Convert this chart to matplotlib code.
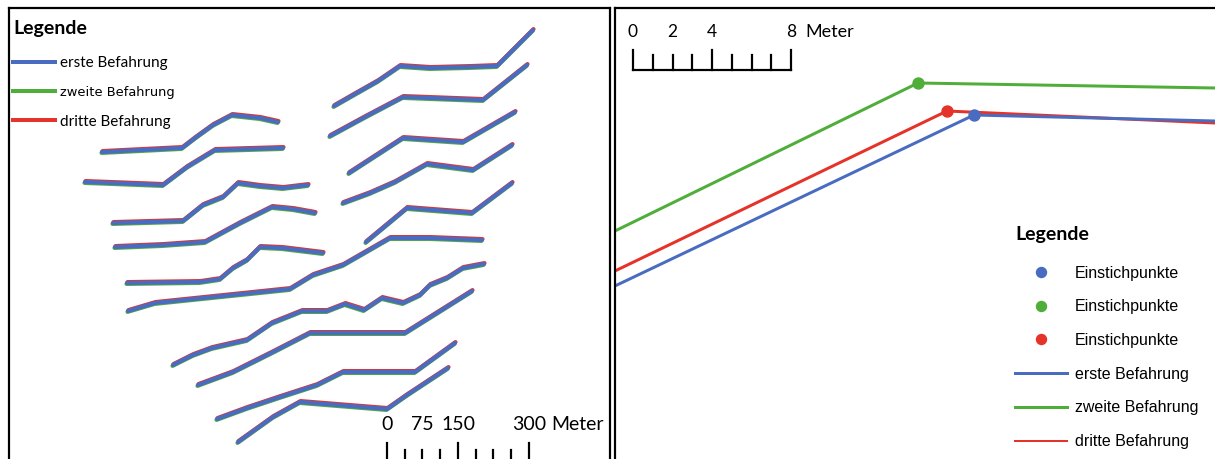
import matplotlib
matplotlib.use("Agg")
import matplotlib.pyplot as plt
from matplotlib.lines import Line2D
from matplotlib.transforms import offset_copy

# ---------------- data ----------------
series_labels = ["erste Befahrung", "zweite Befahrung", "dritte Befahrung"]
point_label = "Einstichpunkte"

# Left map: survey profiles (map coordinates, y grows downward)
p01_x = [102, 182, 195, 213, 232, 260, 278]
p01_y = [152, 148, 138, 125, 115, 118, 122]
p02_x = [85, 112, 163, 187, 215, 283]
p02_y = [182, 183, 185, 167, 150, 148]
p03_x = [113, 183, 203, 223, 238, 260, 283, 308]
p03_y = [223, 221, 205, 197, 183, 186, 188, 185]
p04_x = [115, 163, 205, 240, 272, 293, 315]
p04_y = [247, 245, 242, 223, 207, 209, 213]
p05_x = [127, 200, 220, 233, 247, 260, 282, 323]
p05_y = [283, 282, 279, 268, 260, 247, 248, 253]
p06_x = [128, 155, 290, 313, 343, 390, 430, 482]
p06_y = [311, 303, 289, 275, 265, 238, 238, 240]
p07_x = [173, 193, 212, 247, 272, 302, 327, 345, 364, 382, 403, 420, 430, 447, 463, 484]
p07_y = [365, 355, 348, 340, 323, 311, 311, 304, 310, 298, 303, 295, 285, 278, 268, 264]
p08_x = [198, 233, 273, 310, 405, 472]
p08_y = [385, 372, 352, 333, 333, 291]
p09_x = [217, 247, 280, 317, 343, 415, 455]
p09_y = [419, 408, 397, 385, 372, 372, 343]
p10_x = [238, 273, 300, 387, 407, 448]
p10_y = [442, 417, 402, 409, 395, 368]
p11_x = [334, 355, 378, 400, 430, 470, 497, 515, 533]
p11_y = [106, 94, 81, 66, 68, 67, 66, 48, 30]
p12_x = [330, 365, 403, 483, 527]
p12_y = [136, 117, 97, 100, 65]
p13_x = [349, 403, 463, 515]
p13_y = [173, 138, 142, 112]
p14_x = [343, 370, 395, 427, 473, 512]
p14_y = [203, 193, 182, 164, 170, 145]
p15_x = [366, 407, 472, 512]
p15_y = [242, 208, 213, 183]

profiles = [(p01_x, p01_y), (p02_x, p02_y), (p03_x, p03_y), (p04_x, p04_y),
            (p05_x, p05_y), (p06_x, p06_y), (p07_x, p07_y), (p08_x, p08_y),
            (p09_x, p09_y), (p10_x, p10_y), (p11_x, p11_y), (p12_x, p12_y),
            (p13_x, p13_y), (p14_x, p14_y), (p15_x, p15_y)]

# Right map: detail of one profile for the three runs
erste_x = [617, 974, 1215]
erste_y = [285, 115, 121]
zweite_x = [617, 918, 1215]
zweite_y = [230, 83, 88]
dritte_x = [617, 947, 1215]
dritte_y = [270, 111, 123]
einstich_index = 1

# scale bars
scale_left_labels = [0, 75, 150, 300]
scale_left_ticks = [0, 37.5, 75, 112.5, 150, 187.5, 225, 262.5, 300]
scale_left_major = [0, 150, 300]
scale_right_labels = [0, 2, 4, 8]
scale_right_ticks = [0, 1, 2, 3, 4, 5, 6, 7, 8]
scale_right_major = [0, 4, 8]

# ---------------- style ----------------
W, H, DPI = 1215, 459, 100
BLUE = "#4a6cc0"
GREEN = "#4fae3a"
RED = "#e5332a"
CAL = ["Lato", "DejaVu Sans"]
ARIAL = ["Liberation Sans", "DejaVu Sans"]
px = 72.0 / DPI  # one pixel in points

fig = plt.figure(figsize=(W / DPI, H / DPI), dpi=DPI)
fig.patch.set_facecolor("white")

def make_axes(x0, x1, y0):
    ax = fig.add_axes([x0 / W, 0, (x1 - x0) / W, (H - y0) / H])
    ax.set_xlim(x0, x1)
    ax.set_ylim(H, y0)
    ax.set_xticks([])
    ax.set_yticks([])
    ax.spines["bottom"].set_visible(False)
    for s in ("left", "top", "right"):
        ax.spines[s].set_linewidth(2.2 * px)
        ax.spines[s].set_color("black")
    return ax

ax1 = make_axes(9, 610, 8)
ax2 = make_axes(615, 1216, 8)
ax2.spines["right"].set_visible(False)

# ---------------- left panel ----------------
t_red = offset_copy(ax1.transData, fig=fig, x=0.5, y=0.9, units="dots")
t_green = offset_copy(ax1.transData, fig=fig, x=-0.5, y=-0.9, units="dots")
lw = 4.2 * px
for xs, ys in profiles:
    ax1.plot(xs, ys, color=GREEN, lw=lw, transform=t_green, solid_capstyle="round",
             solid_joinstyle="round")
    ax1.plot(xs, ys, color=RED, lw=lw, transform=t_red, solid_capstyle="round",
             solid_joinstyle="round")
    ax1.plot(xs, ys, color=BLUE, lw=lw, solid_capstyle="round", solid_joinstyle="round")

h_left = [Line2D([], [], color=c, lw=4 * px) for c in (BLUE, GREEN, RED)]
leg1 = ax1.legend(h_left, series_labels, loc="upper left",
                  bbox_to_anchor=(13 / W, 1 - 20 / H), bbox_transform=fig.transFigure,
                  frameon=False, borderpad=0, borderaxespad=0,
                  handlelength=2.75, handletextpad=0.3, labelspacing=1.0,
                  prop={"family": CAL, "size": 11},
                  title="Legende", title_fontproperties={"family": CAL, "size": 14, "weight": "bold"},
                  alignment="left")
leg1.get_texts()[1].set_fontfamily(["DejaVu Sans"])
leg1.get_texts()[1].set_fontsize(9.4)
leg1._legend_box.sep = leg1._legend_box.sep + 4 * px

# left scale bar
sl_x0, sl_ppm = 387, 142 / 300
sl_base = 463
ax1.plot([sl_x0, sl_x0 + 300 * sl_ppm], [sl_base, sl_base], color="black", lw=2 * px, clip_on=False)
for v in scale_left_ticks:
    top = 443 if v in scale_left_major else 450
    ax1.plot([sl_x0 + v * sl_ppm] * 2, [sl_base, top], color="black", lw=2.2 * px, clip_on=False)
for v in scale_left_labels:
    ax1.text(sl_x0 + v * sl_ppm, 425, str(v), ha="center", va="center",
             family=CAL, fontsize=14)
ax1.text(551, 425, "Meter", ha="left", va="center", family=CAL, fontsize=14)

# ---------------- right panel ----------------
lw2 = 3.0 * px
ax2.plot(zweite_x, zweite_y, color=GREEN, lw=lw2)
ax2.plot(dritte_x, dritte_y, color=RED, lw=lw2)
ax2.plot(erste_x, erste_y, color=BLUE, lw=lw2)
ms = 11 * px
ax2.plot([zweite_x[einstich_index]], [zweite_y[einstich_index]], "o", color=GREEN, ms=ms)
ax2.plot([dritte_x[einstich_index]], [dritte_y[einstich_index]], "o", color=RED, ms=ms)
ax2.plot([erste_x[einstich_index]], [erste_y[einstich_index]], "o", color=BLUE, ms=ms)

# right scale bar
sr_x0, sr_ppm = 633, 158 / 8
sr_base = 70
ax2.plot([sr_x0, sr_x0 + 8 * sr_ppm], [sr_base, sr_base], color="black", lw=2.2 * px)
for v in scale_right_ticks:
    top = 50 if v in scale_right_major else 55
    ax2.plot([sr_x0 + v * sr_ppm] * 2, [sr_base, top], color="black", lw=2.2 * px)
for v in scale_right_labels:
    ax2.text(sr_x0 + v * sr_ppm, 32, str(v), ha="center", va="center",
             family=CAL, fontsize=12.5)
ax2.text(805, 32, "Meter", ha="left", va="center", family=CAL, fontsize=13)

h_right = [Line2D([], [], color=c, marker="o", ms=10 * px, ls="none")
           for c in (BLUE, GREEN, RED)]
h_right += [Line2D([], [], color=BLUE, lw=3 * px), Line2D([], [], color=GREEN, lw=3 * px),
            Line2D([], [], color=RED, lw=2 * px)]
labels_right = [point_label] * 3 + series_labels
leg2 = ax2.legend(h_right, labels_right, loc="upper left",
                  bbox_to_anchor=(1015 / W, 1 - 226 / H), bbox_transform=fig.transFigure,
                  frameon=False, borderpad=0, borderaxespad=0,
                  handlelength=3.25, handletextpad=0.5, labelspacing=1.17,
                  prop={"family": ARIAL, "size": 11.5},
                  title="Legende", title_fontproperties={"family": CAL, "size": 14, "weight": "bold"},
                  alignment="left")
leg2._legend_box.sep = leg2._legend_box.sep + 4 * px

fig.savefig("out.png", dpi=DPI, facecolor="white")
